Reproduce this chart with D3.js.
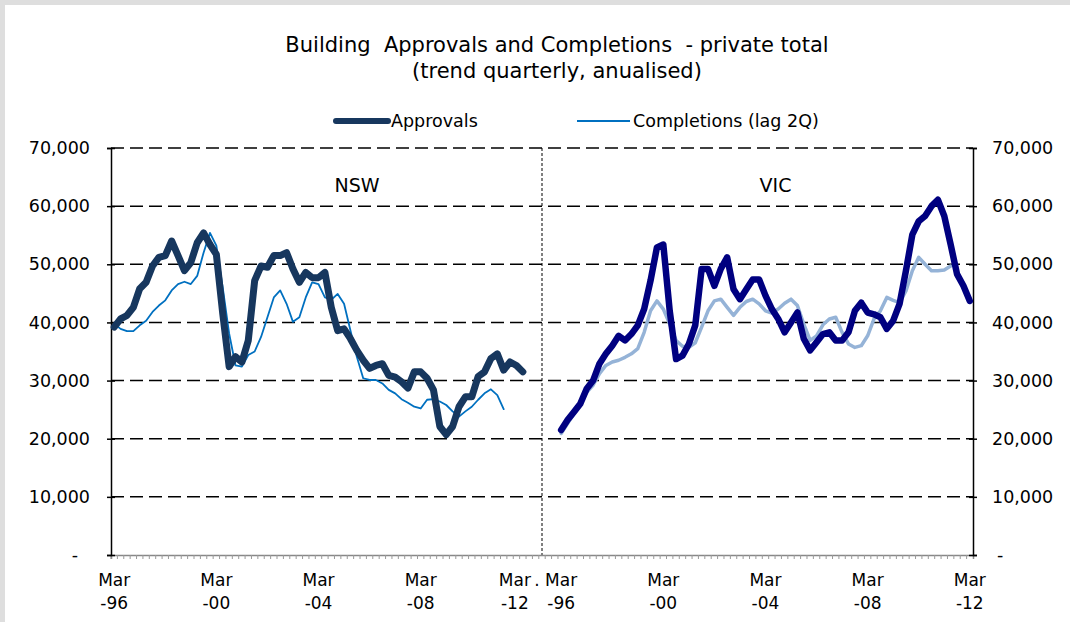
<!DOCTYPE html>
<html>
<head>
<meta charset="utf-8">
<script src="https://cdn.jsdelivr.net/npm/d3@7"></script>
<style>
  body { margin: 0; background: #fff; }
  text { font-family: "DejaVu Sans", Verdana, sans-serif; fill: #000; }
</style>
</head>
<body>
<div id="chart"></div>
<script>
// values in thousands, quarterly from Mar-96 to Mar-12
var nswApprovals = [39.2, 40.6, 41.2, 42.6, 45.8, 46.9, 49.7, 51.2, 51.5, 54.0,
    51.5, 48.9, 50.3, 53.7, 55.4, 53.4, 51.7, 41.5, 32.4, 34.1,
    33.2, 36.9, 47.2, 49.7, 49.5, 51.5, 51.5, 52.0, 49.2, 46.9,
    48.6, 47.7, 47.7, 48.6, 42.6, 38.6, 38.9, 37.2, 35.2, 33.5,
    32.1, 32.6, 32.9, 30.9, 30.6, 29.8, 28.7, 31.5, 31.5, 30.4,
    28.4, 22.1, 20.7, 22.1, 25.5, 27.2, 27.2, 30.7, 31.5, 33.8,
    34.6, 31.8, 33.2, 32.6, 31.5];
var nswCompletions = [39.8, 38.9, 38.5, 38.5, 39.5, 40.3, 41.8, 42.9, 43.8, 45.5,
    46.6, 47.0, 46.6, 48.0, 52.0, 55.4, 53.2, 46.0, 38.1, 32.6,
    32.4, 34.4, 35.0, 37.5, 40.9, 44.3, 45.5, 43.2, 40.1, 40.9,
    44.3, 46.9, 46.6, 44.3, 43.9, 44.9, 43.2, 38.6, 34.1, 30.4,
    30.1, 30.1, 29.5, 28.4, 27.8, 26.8, 26.2, 25.5, 25.2, 26.7,
    26.8, 26.4, 25.8, 24.7, 23.8, 24.7, 25.5, 26.7, 27.8, 28.5,
    27.5, 25.1];
var vicApprovals = [21.5, 23.2, 24.6, 26.0, 28.6, 30.0, 32.9, 34.6, 36.0, 37.7,
    36.9, 38.0, 39.5, 42.3, 47.2, 52.9, 53.4, 42.0, 33.7, 34.3,
    36.3, 39.5, 49.2, 49.2, 46.3, 49.2, 51.2, 45.7, 44.0, 45.7,
    47.4, 47.4, 44.6, 42.3, 40.6, 38.3, 40.0, 41.7, 37.2, 35.2,
    36.6, 38.0, 38.3, 36.9, 36.9, 38.3, 42.0, 43.4, 41.7, 41.4,
    40.9, 38.9, 40.3, 43.2, 48.9, 55.1, 57.4, 58.3, 60.0, 61.1,
    58.3, 53.4, 48.3, 46.3, 43.7];
var vicCompletions = [20.9, 22.6, 24.3, 26.3, 28.0, 29.2, 31.2, 32.6, 33.2, 33.5,
    34.0, 34.6, 35.5, 38.3, 42.0, 43.7, 42.3, 39.7, 36.9, 35.9,
    35.7, 36.5, 39.2, 42.0, 43.7, 44.0, 42.6, 41.2, 42.6, 43.6,
    44.0, 43.2, 42.0, 41.6, 42.3, 43.3, 44.0, 42.9, 39.7, 36.9,
    37.7, 39.6, 40.6, 40.9, 38.3, 36.3, 35.7, 36.0, 37.7, 40.6,
    42.0, 44.3, 43.8, 43.4, 45.4, 48.9, 51.2, 50.0, 48.9, 48.9,
    49.0, 49.7];

var tickLabels = ["Mar -96", "Mar -00", "Mar -04", "Mar -08", "Mar -12"];
var tickQuarters = [0, 16, 32, 48, 64];
var yTicks = [0, 10000, 20000, 30000, 40000, 50000, 60000, 70000];

var nQuarters = 65, gap = 5;
var vicStart = nQuarters + gap;
var categories = d3.range(nQuarters * 2 + gap);

var width = 1070, height = 622;
var plotLeft = 111, plotRight = 973, plotTop = 148, plotBottom = 555;

var svg = d3.select("#chart").append("svg")
    .attr("width", width)
    .attr("height", height);

// grey frame edges
svg.append("rect").attr("width", width).attr("height", height).attr("fill", "#dedede");
svg.append("rect").attr("x", 5).attr("y", 5).attr("width", width - 5).attr("height", height - 5).attr("fill", "#fff");

var x = d3.scaleBand().domain(categories).range([plotLeft, plotRight]).padding(0);
var y = d3.scaleLinear().domain([0, 70000]).range([plotBottom, plotTop]);
var cx = function(i) { return x(i) + x.bandwidth() / 2; };

// title
svg.append("text").attr("x", 557).attr("y", 52).attr("text-anchor", "middle")
    .style("font-size", "21px").style("white-space", "pre")
    .text("Building  Approvals and Completions  - private total");
svg.append("text").attr("x", 557).attr("y", 78).attr("text-anchor", "middle")
    .style("font-size", "21px").text("(trend quarterly, anualised)");

// legend
svg.append("line").attr("x1", 336).attr("x2", 388).attr("y1", 121).attr("y2", 121)
    .attr("stroke", "#17375E").attr("stroke-width", 6).attr("stroke-linecap", "round");
svg.append("text").attr("x", 391).attr("y", 127).style("font-size", "17.5px").text("Approvals");
svg.append("line").attr("x1", 577).attr("x2", 630).attr("y1", 121).attr("y2", 121)
    .attr("stroke", "#0070C0").attr("stroke-width", 2);
svg.append("text").attr("x", 633).attr("y", 127).style("font-size", "17.5px").text("Completions (lag 2Q)");

// gridlines
svg.selectAll(".grid")
    .data(yTicks.filter(function(d) { return d > 0; }))
    .enter().append("line")
    .attr("class", "grid")
    .attr("x1", plotLeft).attr("x2", plotRight)
    .attr("y1", function(d) { return y(d); })
    .attr("y2", function(d) { return y(d); })
    .attr("stroke", "#000").attr("stroke-width", 1.5)
    .attr("stroke-dasharray", "13,6");

// divider between the two states
var midX = (cx(nQuarters - 1) + cx(vicStart)) / 2;
svg.append("line")
    .attr("x1", midX).attr("x2", midX)
    .attr("y1", plotTop).attr("y2", plotBottom)
    .attr("stroke", "#000").attr("stroke-width", 1)
    .attr("stroke-dasharray", "3,2");

// bottom category axis
var xAxis = d3.axisBottom(x).tickSize(4).tickFormat("");
var gx = svg.append("g").attr("transform", "translate(0," + plotBottom + ")").call(xAxis);
gx.select(".domain").attr("stroke", "#888").attr("stroke-width", 1.5);
gx.selectAll(".tick line").attr("stroke", "#999").attr("transform", "translate(" + (-x.bandwidth() / 2) + ",0)");

// y axes
var fmt = function(d) { return d === 0 ? "-" : d3.format(",")(d); };
var yl = svg.append("g").attr("transform", "translate(" + plotLeft + ",0)")
    .call(d3.axisLeft(y).tickValues(yTicks).tickSize(4).tickPadding(18).tickFormat(fmt));
var yr = svg.append("g").attr("transform", "translate(" + plotRight + ",0)")
    .call(d3.axisRight(y).tickValues(yTicks).tickSize(4).tickPadding(18).tickFormat(fmt));
[yl, yr].forEach(function(g) {
    g.select(".domain").attr("stroke", "#000").attr("stroke-width", 1.5);
    g.selectAll(".tick line").attr("stroke", "#000").attr("stroke-width", 1.5)
        .attr("x1", -4).attr("x2", 4);
    g.selectAll(".tick text").style("font-size", "17.5px").style("font-family", "DejaVu Sans, Verdana, sans-serif");
});
yl.selectAll(".tick text").attr("x", -21);
yr.selectAll(".tick text").attr("x", 19);
yl.selectAll(".tick text").filter(function(d) { return d === 0; }).attr("x", -33);
yr.selectAll(".tick text").filter(function(d) { return d === 0; }).attr("x", 24);

// x tick labels
[0, vicStart].forEach(function(offset) {
    tickQuarters.forEach(function(q, k) {
        var parts = tickLabels[k].split(" ");
        var px = cx(offset + q);
        if (offset === 0 && q === 64) px -= 8;
        var t = svg.append("text").attr("text-anchor", "middle").style("font-size", "17px");
        t.append("tspan").attr("x", px).attr("y", 586).text(parts[0]);
        t.append("tspan").attr("x", px).attr("y", 609).text(parts[1]);
    });
});
svg.append("text").attr("x", 537).attr("y", 586).attr("text-anchor", "middle")
    .style("font-size", "17px").text(".");

// panel labels
svg.append("text").attr("x", cx(36) + 13).attr("y", 192).attr("text-anchor", "middle")
    .style("font-size", "19px").text("NSW");
svg.append("text").attr("x", cx(vicStart + 32) + 10).attr("y", 192).attr("text-anchor", "middle")
    .style("font-size", "19px").text("VIC");

// series
var series = [
    { data: nswCompletions, offset: 0, color: "#0070C0", w: 1.8 },
    { data: nswApprovals, offset: 0, color: "#17375E", w: 7 },
    { data: vicCompletions, offset: vicStart, color: "#95B3D7", w: 3.5 },
    { data: vicApprovals, offset: vicStart, color: "#000080", w: 6.5 }
];
series.forEach(function(s) {
    var line = d3.line()
        .x(function(d, i) { return cx(s.offset + i); })
        .y(function(d) { return y(d * 1000); });
    svg.append("path").datum(s.data)
        .attr("d", line)
        .attr("fill", "none")
        .attr("stroke", s.color)
        .attr("stroke-width", s.w)
        .attr("stroke-linejoin", "round")
        .attr("stroke-linecap", "round");
});
</script>
</body>
</html>
